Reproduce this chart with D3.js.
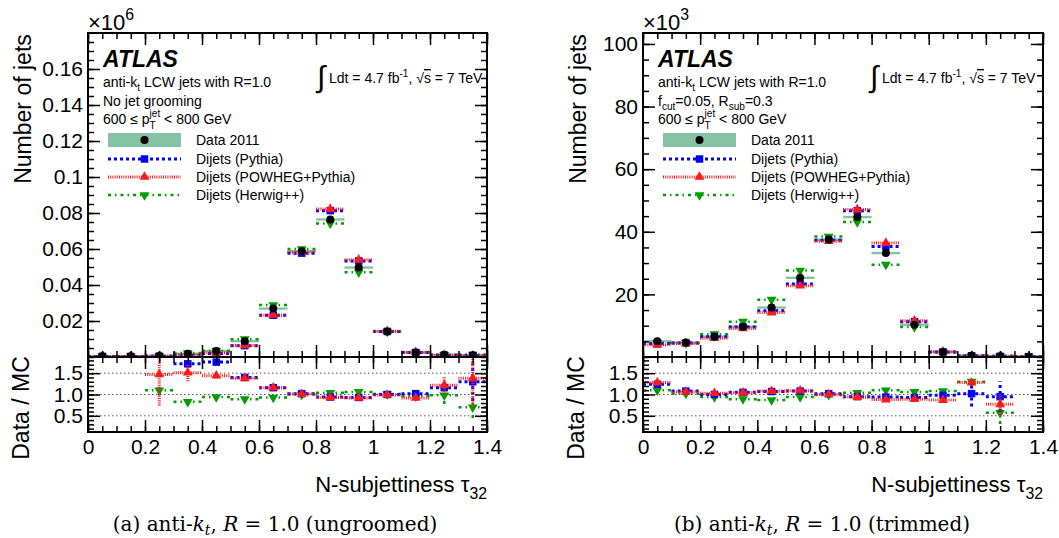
<!DOCTYPE html>
<html>
<head>
<meta charset="utf-8">
<script src="https://cdn.jsdelivr.net/npm/d3@7"></script>
<style>
  body { margin: 0; background: #fff; }
  text { font-family: "Liberation Sans", Arial, Helvetica, sans-serif; }
</style>
</head>
<body>
<svg id="fig" width="1059" height="538"></svg>
<script>
// ---- DATA ----
const binCenters = [0.05, 0.15, 0.25, 0.35, 0.45, 0.55, 0.65, 0.75, 0.85, 0.95, 1.05, 1.15, 1.25, 1.35];
const xTickLabels = [0, 0.2, 0.4, 0.6, 0.8, 1, 1.2, 1.4];
const ratioTickLabels = [0.5, 1.0, 1.5];

// (a) ungroomed, jets x 10^6
const leftYTicks = [0.02, 0.04, 0.06, 0.08, 0.1, 0.12, 0.14, 0.16];
const leftData   = [0.0004, 0.0004, 0.0006, 0.0018, 0.0033, 0.0088, 0.0269, 0.0588, 0.0764, 0.0497, 0.0142, 0.0025, 0.0012, 0.0010];
const leftPythia = [0.0003, 0.0003, 0.0004, 0.0010, 0.0019, 0.0063, 0.0232, 0.0577, 0.0813, 0.0534, 0.0142, 0.0025, 0.0010, 0.0008];
const leftPowheg = [0.0003, 0.0003, 0.0004, 0.0012, 0.0023, 0.0064, 0.0232, 0.0582, 0.0822, 0.0540, 0.0143, 0.0027, 0.0010, 0.0007];
const leftHerwig = [0.0004, 0.0004, 0.0005, 0.0022, 0.0035, 0.0099, 0.0289, 0.0600, 0.0742, 0.0471, 0.0141, 0.0026, 0.0012, 0.0014];
const leftRatioPythia = [null, null, null, 1.72, 1.76, 1.40, 1.16, 1.02, 0.94, 0.93, 1.00, 1.02, 1.16, 1.30];
const leftRatioPowheg = [null, null, 1.47, 1.51, 1.44, 1.38, 1.16, 1.01, 0.93, 0.92, 0.99, 0.92, 1.22, 1.38];
const leftRatioHerwig = [null, null, 1.10, 0.83, 0.94, 0.89, 0.93, 1.00, 1.04, 1.06, 1.01, 0.96, 0.98, 0.70];
const leftErrPythia = [0, 0, 0, 0.06, 0.05, 0.03, 0.02, 0.01, 0.01, 0.01, 0.01, 0.03, 0.06, 0.45];
const leftErrPowheg = [0, 0, 0.73, 0.20, 0.06, 0.03, 0.02, 0.01, 0.01, 0.01, 0.01, 0.03, 0.20, 0.70];
const leftErrHerwig = [0, 0, 0.12, 0.05, 0.03, 0.02, 0.01, 0.01, 0.01, 0.01, 0.01, 0.03, 0.20, 0.25];

// (b) trimmed, jets x 10^3
const rightYTicks = [20, 40, 60, 80, 100];
const rightData   = [5.0, 4.6, 6.5, 9.7, 15.8, 25.3, 37.5, 44.7, 33.2, 10.3, 1.6, 0.4, 0.2, 0.1];
const rightPythia = [4.2, 4.5, 6.5, 9.6, 14.8, 23.3, 37.3, 46.7, 35.3, 11.3, 1.6, 0.4, 0.2, 0.1];
const rightPowheg = [3.9, 4.3, 6.0, 9.1, 14.2, 22.8, 37.0, 47.1, 36.4, 11.6, 1.7, 0.3, 0.25, 0.1];
const rightHerwig = [4.5, 4.5, 7.3, 11.3, 18.3, 27.6, 38.5, 43.1, 29.5, 9.6, 1.5, 0.3, 0.3, 0.1];
const rightRatioPythia = [1.24, 1.08, 1.00, 1.05, 1.07, 1.08, 1.02, 0.95, 0.94, 0.93, 0.98, 1.02, 0.95, null];
const rightRatioPowheg = [1.28, 1.06, 1.03, 1.04, 1.08, 1.09, 1.00, 0.94, 0.88, 0.89, 0.87, 1.28, 0.77, null];
const rightRatioHerwig = [1.10, 1.02, 0.94, 0.89, 0.87, 0.94, 0.99, 1.04, 1.10, 1.06, 1.08, 1.30, 0.57, null];
const rightErrPythia = [0.02, 0.01, 0.01, 0.01, 0.01, 0.01, 0.01, 0.01, 0.01, 0.01, 0.02, 0.30, 0.36, 0];
const rightErrPowheg = [0.03, 0.02, 0.01, 0.01, 0.01, 0.01, 0.01, 0.01, 0.01, 0.01, 0.03, 0.06, 0.25, 0];
const rightErrHerwig = [0.03, 0.02, 0.01, 0.01, 0.01, 0.01, 0.01, 0.01, 0.01, 0.01, 0.03, 0.06, 0.26, 0];

const legendNames = ["Data 2011", "Dijets (Pythia)", "Dijets (POWHEG+Pythia)", "Dijets (Herwig++)"];

// ---- STYLES ----
const bandColor = "#84c3a3";
const mcStyle = {
  pythia: { color: "#0000ff", dash: "3,3", width: 3, symbol: d3.symbolSquare, size: 56, rot: 0 },
  powheg: { color: "#ff1a1a", dash: "1,1.2", width: 3, symbol: d3.symbolTriangle, size: 42, rot: 0 },
  herwig: { color: "#009c00", dash: "3,4,1.5,4", width: 2.5, symbol: d3.symbolTriangle, size: 42, rot: 180 }
};

const svg = d3.select("#fig");
const yTop = 33, yMid = 357, yBot = 432;
const binHalf = 0.05;

function richText(g, x, y, size, parts, anchor) {
  const t = g.append("text").attr("x", x).attr("y", y).attr("font-size", size)
    .attr("text-anchor", anchor || "start");
  let shift = 0;
  parts.forEach(p => {
    const [str, kind] = p;
    let target = kind === "sub" ? size * 0.3 : kind === "sup" ? -size * 0.45 : 0;
    const ts = t.append("tspan").text(str).attr("dy", target - shift)
      .attr("font-size", kind === "sub" || kind === "sup" ? size * 0.72 : size);
    if (p[2]) ts.style("text-decoration", "overline");
    shift = target;
  });
  return t;
}

function drawPanel(p) {
  const g = svg.append("g");
  const x = d3.scaleLinear().domain([0, 1.4]).range([p.x0, p.x1]);
  const y = d3.scaleLinear().domain([0, p.yMax]).range([yMid, yTop]);
  const yr = d3.scaleLinear().domain([0.12, 1.88]).range([yBot, yMid]);

  const id = "c" + Math.round(p.x0);
  const defs = g.append("defs");
  defs.append("clipPath").attr("id", id + "m").append("rect")
    .attr("x", p.x0).attr("y", yTop).attr("width", p.x1 - p.x0).attr("height", yMid - yTop);
  defs.append("clipPath").attr("id", id + "r").append("rect")
    .attr("x", p.x0).attr("y", yMid).attr("width", p.x1 - p.x0).attr("height", yBot - yMid);

  // ratio reference lines
  g.append("g").selectAll("line").data(ratioTickLabels).join("line")
    .attr("x1", p.x0).attr("x2", p.x1).attr("y1", d => yr(d)).attr("y2", d => yr(d))
    .attr("stroke", "#555").attr("stroke-width", 1).attr("stroke-dasharray", "1.5,2.5");

  const mainG = g.append("g").attr("clip-path", `url(#${id}m)`);
  const ratG = g.append("g").attr("clip-path", `url(#${id}r)`);

  // data band in main panel
  mainG.append("g").selectAll("rect").data(binCenters.map((c, i) => ({ c, v: p.data[i] }))).join("rect")
    .attr("x", d => x(d.c - binHalf)).attr("width", d => x(d.c + binHalf) - x(d.c - binHalf))
    .attr("y", d => y(d.v) - 1.2).attr("height", 2.4).attr("fill", bandColor);

  function series(layer, sy, vals, errs, st) {
    const pts = binCenters.map((c, i) => ({ c, v: vals[i], e: errs ? errs[i] : 0 })).filter(d => d.v != null);
    const sg = layer.append("g");
    sg.selectAll("line.h").data(pts).join("line").attr("class", "h")
      .attr("x1", d => x(d.c - binHalf)).attr("x2", d => x(d.c + binHalf))
      .attr("y1", d => sy(d.v)).attr("y2", d => sy(d.v))
      .attr("stroke", st.color).attr("stroke-width", st.width).attr("stroke-dasharray", st.dash);
    sg.selectAll("line.v").data(pts.filter(d => d.e > 0)).join("line").attr("class", "v")
      .attr("x1", d => x(d.c)).attr("x2", d => x(d.c))
      .attr("y1", d => sy(d.v - d.e)).attr("y2", d => sy(d.v + d.e))
      .attr("stroke", st.color).attr("stroke-width", st.width).attr("stroke-dasharray", st.dash);
    sg.selectAll("path").data(pts).join("path")
      .attr("d", d3.symbol().type(st.symbol).size(st.size))
      .attr("transform", d => `translate(${x(d.c)},${sy(d.v)}) rotate(${st.rot})`)
      .attr("fill", st.color);
  }

  series(mainG, y, p.herwig, null, mcStyle.herwig);
  series(mainG, y, p.pythia, null, mcStyle.pythia);
  series(mainG, y, p.powheg, null, mcStyle.powheg);
  mainG.append("g").selectAll("circle").data(binCenters.map((c, i) => ({ c, v: p.data[i] }))).join("circle")
    .attr("cx", d => x(d.c)).attr("cy", d => y(d.v)).attr("r", 4).attr("fill", "#000");

  series(ratG, yr, p.rHerwig, p.eHerwig, mcStyle.herwig);
  series(ratG, yr, p.rPythia, p.ePythia, mcStyle.pythia);
  series(ratG, yr, p.rPowheg, p.ePowheg, mcStyle.powheg);

  // ---- ticks (inward, all four sides) ----
  function tickSet(axisFn, scale, values, len, tr) {
    g.append("g").attr("transform", tr)
      .call(axisFn(scale).tickValues(values).tickSize(len).tickSizeOuter(0).tickFormat(""))
      .call(s => s.select(".domain").remove())
      .selectAll("line").attr("stroke", "#000").attr("stroke-width", 1.5);
  }
  const xMajor = d3.range(0, 1.41, 0.2);
  const xMinor = d3.range(0, 1.41, 0.05);
  [[yMid, -1], [yTop, 1], [yBot, -1]].forEach(([yy, dir]) => {
    tickSet(d3.axisBottom, x, xMinor, 6 * dir, `translate(0,${yy})`);
    tickSet(d3.axisBottom, x, xMajor, 12 * dir, `translate(0,${yy})`);
  });
  tickSet(d3.axisBottom, x, xMinor, 6, `translate(0,${yMid})`);
  tickSet(d3.axisBottom, x, xMajor, 12, `translate(0,${yMid})`);

  const yMinor = d3.range(0, p.yMax, p.yMinorStep);
  [[d3.axisLeft, p.x0], [d3.axisRight, p.x1]].forEach(([fn, xx]) => {
    tickSet(fn, y, yMinor, -6, `translate(${xx},0)`);
    tickSet(fn, y, p.yTicks, -12, `translate(${xx},0)`);
    tickSet(fn, yr, d3.range(0.2, 1.85, 0.1), -6, `translate(${xx},0)`);
    tickSet(fn, yr, ratioTickLabels, -12, `translate(${xx},0)`);
  });

  // ---- tick labels ----
  function labels(axisFn, scale, values, fmt, tr, pad) {
    const a = g.append("g").attr("transform", tr)
      .call(axisFn(scale).tickValues(values).tickSize(0).tickPadding(pad).tickFormat(fmt));
    a.select(".domain").remove();
    a.selectAll("text").attr("font-size", 21).attr("font-family", "'Liberation Sans', Arial, sans-serif").attr("fill", "#000");
  }
  labels(d3.axisLeft, y, p.yTicks, d3.format("~g"), `translate(${p.x0},0)`, 5);
  labels(d3.axisLeft, yr, ratioTickLabels, d3.format(".1f"), `translate(${p.x0},0)`, 5);
  labels(d3.axisBottom, x, xTickLabels, d3.format("~g"), `translate(0,${yBot})`, 7);

  // frame
  g.append("rect").attr("x", p.x0).attr("y", yTop).attr("width", p.x1 - p.x0).attr("height", yBot - yTop)
    .attr("fill", "none").attr("stroke", "#000").attr("stroke-width", 2);
  g.append("line").attr("x1", p.x0).attr("x2", p.x1).attr("y1", yMid).attr("y2", yMid)
    .attr("stroke", "#000").attr("stroke-width", 2);

  // ---- axis titles ----
  richText(g, p.x0, 30, 22, [["×10", "n"], [p.exp, "sup"]]);
  g.append("text").attr("transform", `translate(${p.x0 - 57},109) rotate(-90)`)
    .attr("text-anchor", "middle").attr("font-size", 23).text("Number of jets");
  g.append("text").attr("transform", `translate(${p.x0 - 59},408) rotate(-90)`)
    .attr("text-anchor", "middle").attr("font-size", 23).text("Data / MC");
  richText(g, p.x1, 492, 22, [["N-subjettiness ", "n"], ["τ", "n"], ["32", "sub"]], "end");

  // ---- labels inside ----
  const tx = p.x0 + 15;
  g.append("text").attr("x", tx).attr("y", 67).attr("font-size", 23)
    .attr("font-weight", "bold").attr("font-style", "italic").text("ATLAS");
  richText(g, tx, 87, 14, [["anti-k", "n"], ["t", "sub"], [" LCW jets with R=1.0", "n"]]);
  richText(g, tx, 106, 14, p.line2);
  // 600 <= pT^jet < 800 GeV with stacked sub/superscript
  const t3 = g.append("text").attr("x", tx).attr("y", 124).attr("font-size", 14);
  t3.append("tspan").text("600 ≤ p");
  const sup = t3.append("tspan").text("jet").attr("font-size", 10).attr("dy", -7);
  const wj = sup.node().getComputedTextLength();
  const sub = t3.append("tspan").text("T").attr("font-size", 10).attr("dy", 12).attr("dx", -wj);
  const wt = sub.node().getComputedTextLength();
  t3.append("tspan").text(" < 800 GeV").attr("dy", -5).attr("dx", wj - wt);

  // luminosity
  g.append("text").attr("x", p.lumiX - 12).attr("y", 87).attr("font-size", 30)
    .attr("font-family", "'DejaVu Sans', sans-serif").attr("font-weight", "200").text("∫");
  richText(g, p.lumiX, 83, 14, [["Ldt = 4.7 fb", "n"], ["-1", "sup"], [", √", "n"], ["s", "n", true], [" = 7 TeV", "n"]]);

  // ---- legend ----
  const lx0 = tx + 5, lx1 = tx + 78, lxc = (lx0 + lx1) / 2;
  const rows = [140, 159, 177, 195];
  g.append("rect").attr("x", lx0).attr("y", rows[0] - 7).attr("width", lx1 - lx0).attr("height", 14).attr("fill", bandColor);
  g.append("circle").attr("cx", lxc).attr("cy", rows[0]).attr("r", 4).attr("fill", "#000");
  [mcStyle.pythia, mcStyle.powheg, mcStyle.herwig].forEach((st, i) => {
    const ry = rows[i + 1];
    g.append("line").attr("x1", lx0).attr("x2", lx1).attr("y1", ry).attr("y2", ry)
      .attr("stroke", st.color).attr("stroke-width", st.width).attr("stroke-dasharray", st.dash);
    g.append("path").attr("d", d3.symbol().type(st.symbol).size(st.size)())
      .attr("transform", `translate(${lxc},${ry}) rotate(${st.rot})`).attr("fill", st.color);
  });
  g.append("g").selectAll("text").data(legendNames).join("text")
    .attr("x", lx1 + 15).attr("y", (d, i) => rows[i] + 5).attr("font-size", 14).text(d => d);

  // caption
  const cap = g.append("text").attr("x", p.capX).attr("y", 531).attr("text-anchor", "middle")
    .attr("font-size", 20).style("font-family", "'DejaVu Serif', 'Liberation Serif', serif");
  cap.append("tspan").text(p.capTag + " anti-");
  cap.append("tspan").text("k").attr("font-style", "italic");
  cap.append("tspan").text("t").attr("font-style", "italic").attr("font-size", 14).attr("dy", 4);
  cap.append("tspan").text(", ").attr("dy", -4);
  cap.append("tspan").text("R").attr("font-style", "italic");
  cap.append("tspan").text(" = 1.0 (" + p.capText + ")");
}

drawPanel({
  x0: 88, x1: 487, yMax: 0.18, yMinorStep: 0.005, yTicks: leftYTicks, exp: "6",
  data: leftData, pythia: leftPythia, powheg: leftPowheg, herwig: leftHerwig,
  rPythia: leftRatioPythia, rPowheg: leftRatioPowheg, rHerwig: leftRatioHerwig,
  ePythia: leftErrPythia, ePowheg: leftErrPowheg, eHerwig: leftErrHerwig,
  line2: [["No jet grooming", "n"]], lumiX: 329,
  capX: 275, capTag: "(a)", capText: "ungroomed"
});
drawPanel({
  x0: 643, x1: 1043, yMax: 103.5, yMinorStep: 5, yTicks: rightYTicks, exp: "3",
  data: rightData, pythia: rightPythia, powheg: rightPowheg, herwig: rightHerwig,
  rPythia: rightRatioPythia, rPowheg: rightRatioPowheg, rHerwig: rightRatioHerwig,
  ePythia: rightErrPythia, ePowheg: rightErrPowheg, eHerwig: rightErrHerwig,
  line2: [["f", "n"], ["cut", "sub"], ["=0.05, R", "n"], ["sub", "sub"], ["=0.3", "n"]], lumiX: 882,
  capX: 822, capTag: "(b)", capText: "trimmed"
});
</script>
</body>
</html>
